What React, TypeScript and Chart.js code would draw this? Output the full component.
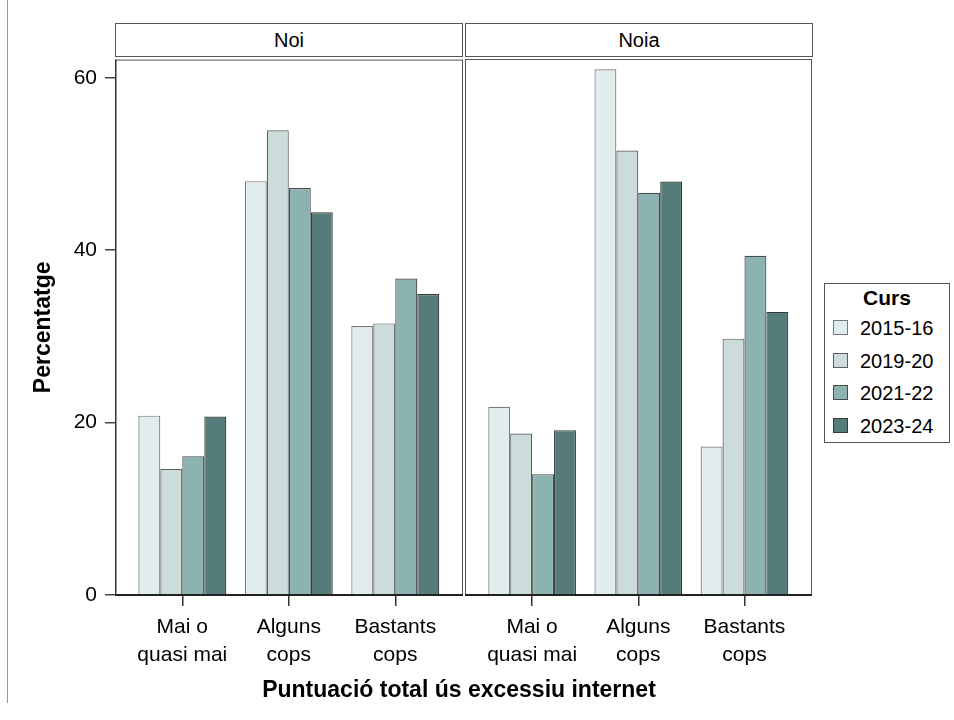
import React, { useEffect, useRef } from 'react';
import { Chart, registerables } from 'chart.js';

Chart.register(...registerables);

const categories: string[][] = [['Mai o', 'quasi mai'], ['Alguns', 'cops'], ['Bastants', 'cops']];
const courses = ['2015-16', '2019-20', '2021-22', '2023-24'];
const panels = ['Noi', 'Noia'];

const noi2015 = [20.8, 48.0, 31.2];
const noi2019 = [14.6, 53.9, 31.5];
const noi2021 = [16.1, 47.2, 36.7];
const noi2023 = [20.7, 44.4, 34.9];

const noia2015 = [21.8, 60.9, 17.2];
const noia2019 = [18.7, 51.5, 29.7];
const noia2021 = [14.0, 46.6, 39.3];
const noia2023 = [19.1, 47.9, 32.8];

const yTicks = [0, 20, 40, 60];
const yMax = 62.1;

const fillColors = ['#e1eded', '#cbdcdb', '#8cb3b0', '#557c79'];
const borderColors = ['#7a7a7a', '#5e5e5e', '#4a4a4a', '#383838'];

const FONT = "'Liberation Sans', Arial, Helvetica, sans-serif";

const framePlugin = {
  id: 'panelFrame',
  afterDraw(chart: any) {
    const { ctx, chartArea } = chart;
    const { left, right, top, bottom } = chartArea;
    ctx.save();
    ctx.strokeStyle = '#555';
    ctx.lineWidth = 1;
    ctx.strokeRect(left + 0.5, top + 0.5, right - left - 1, bottom - top - 1);
    ctx.strokeStyle = '#222';
    ctx.lineWidth = 2;
    ctx.beginPath();
    ctx.moveTo(left, bottom);
    ctx.lineTo(right, bottom);
    ctx.stroke();
    if (chart.options.plugins.panelFrame && chart.options.plugins.panelFrame.leftAxis) {
      ctx.strokeStyle = '#333';
      ctx.lineWidth = 1.5;
      ctx.beginPath();
      ctx.moveTo(left + 0.75, top);
      ctx.lineTo(left + 0.75, bottom);
      ctx.stroke();
    }
    ctx.restore();
  },
};

function PanelChart(props: { series: number[][]; showY: boolean; left: number; width: number; padLeft: number; padRight: number }) {
  const ref = useRef<HTMLCanvasElement | null>(null);
  useEffect(() => {
    if (!ref.current) return;
    const chart = new Chart(ref.current, {
      type: 'bar',
      data: {
        datasets: props.series.map((vals, si) => ({
          label: courses[si],
          data: vals.map((v, i) => ({ x: i, y: v })),
          backgroundColor: fillColors[si],
          borderColor: borderColors[si],
          borderWidth: 1.2,
          barPercentage: 1,
          categoryPercentage: 0.826,
        })),
      },
      options: {
        animation: false,
        responsive: false,
        maintainAspectRatio: false,
        devicePixelRatio: 1,
        layout: { padding: { left: props.padLeft, right: props.padRight, top: 20, bottom: 0 } },
        plugins: {
          legend: { display: false },
          tooltip: { enabled: false },
          panelFrame: { leftAxis: props.showY },
        } as any,
        scales: {
          x: {
            type: 'linear',
            offset: false,
            min: -0.632,
            max: 2.636,
            afterBuildTicks: (scale: any) => {
              scale.ticks = categories.map((_, i) => ({ value: i }));
            },
            afterFit: (scale: any) => {
              scale.height = 84;
            },
            border: { display: false },
            grid: { display: true, offset: false, drawOnChartArea: false, drawTicks: true, tickLength: 11, color: '#333', lineWidth: 1.5 },
            ticks: {
              autoSkip: false,
              maxRotation: 0,
              padding: 8,
              color: '#000',
              font: { family: FONT, size: 21, lineHeight: 1.3 },
              callback: (value: any) => categories[Number(value)] ?? '',
            },
          },
          y: {
            display: props.showY,
            min: 0,
            max: yMax,
            afterBuildTicks: (scale: any) => {
              scale.ticks = yTicks.map((v) => ({ value: v }));
            },
            afterFit: (scale: any) => {
              if (props.showY) scale.width = 115;
            },
            border: { display: false },
            grid: { display: true, drawOnChartArea: false, drawTicks: true, tickLength: 10, color: '#444', lineWidth: 1.5 },
            ticks: {
              padding: 8,
              color: '#000',
              font: { family: FONT, size: 21 },
            },
            title: {
              display: true,
              text: 'Percentatge',
              color: '#000',
              font: { family: FONT, size: 23, weight: 'bold', lineHeight: 1.2 },
              padding: { top: 30, bottom: 0 },
            },
          },
        },
      },
      plugins: [framePlugin],
    } as any);
    return () => chart.destroy();
  }, []);
  return (
    <canvas
      ref={ref}
      width={props.width}
      height={640}
      style={{ position: 'absolute', left: props.left, top: 39, width: props.width, height: 640 }}
    />
  );
}

export default function App() {
  const stripStyle = (left: number, width: number): React.CSSProperties => ({
    position: 'absolute',
    left,
    top: 23,
    width,
    height: 34,
    boxSizing: 'border-box',
    border: '1px solid #555',
    background: '#fff',
    textAlign: 'center',
    lineHeight: '32px',
    fontFamily: FONT,
    fontSize: 20,
    color: '#000',
  });
  const legendRowTop = (i: number) => 317 + i * 32.5;
  return (
    <div style={{ position: 'absolute', left: 0, top: 0, width: 954, height: 720, background: '#fff', overflow: 'hidden' }}>
      <div style={{ position: 'absolute', left: 7, top: 0, width: 1, height: 703, background: '#999' }} />
      <div style={stripStyle(115, 348)}>{panels[0]}</div>
      <div style={stripStyle(465, 348)}>{panels[1]}</div>
      <PanelChart series={[noi2015, noi2019, noi2021, noi2023]} showY={true} left={0} width={470} padLeft={0} padRight={7} />
      <PanelChart series={[noia2015, noia2019, noia2021, noia2023]} showY={false} left={455} width={365} padLeft={10} padRight={8} />
      <div
        style={{
          position: 'absolute',
          left: 0,
          width: 918,
          top: 676,
          textAlign: 'center',
          fontFamily: FONT,
          fontWeight: 'bold',
          fontSize: 23,
          lineHeight: '26px',
          color: '#000',
        }}
      >
        Puntuació total ús excessiu internet
      </div>
      <div
        style={{
          position: 'absolute',
          left: 824,
          top: 283,
          width: 126,
          height: 160,
          boxSizing: 'border-box',
          border: '1px solid #555',
          background: '#fff',
          fontFamily: FONT,
          color: '#000',
        }}
      >
        <div style={{ position: 'absolute', left: 0, width: 124, top: 1, textAlign: 'center', fontWeight: 'bold', fontSize: 21, lineHeight: '26px' }}>Curs</div>
        {courses.map((c, i) => (
          <div key={c} style={{ position: 'absolute', left: 0, top: legendRowTop(i) - 283, height: 20 }}>
            <div
              style={{
                position: 'absolute',
                left: 8,
                top: 2,
                width: 15,
                height: 15,
                boxSizing: 'border-box',
                background: fillColors[i],
                border: '1px solid ' + borderColors[i],
              }}
            />
            <div style={{ position: 'absolute', left: 35, top: -1, fontSize: 20, lineHeight: '22px', whiteSpace: 'nowrap' }}>{c}</div>
          </div>
        ))}
      </div>
    </div>
  );
}
